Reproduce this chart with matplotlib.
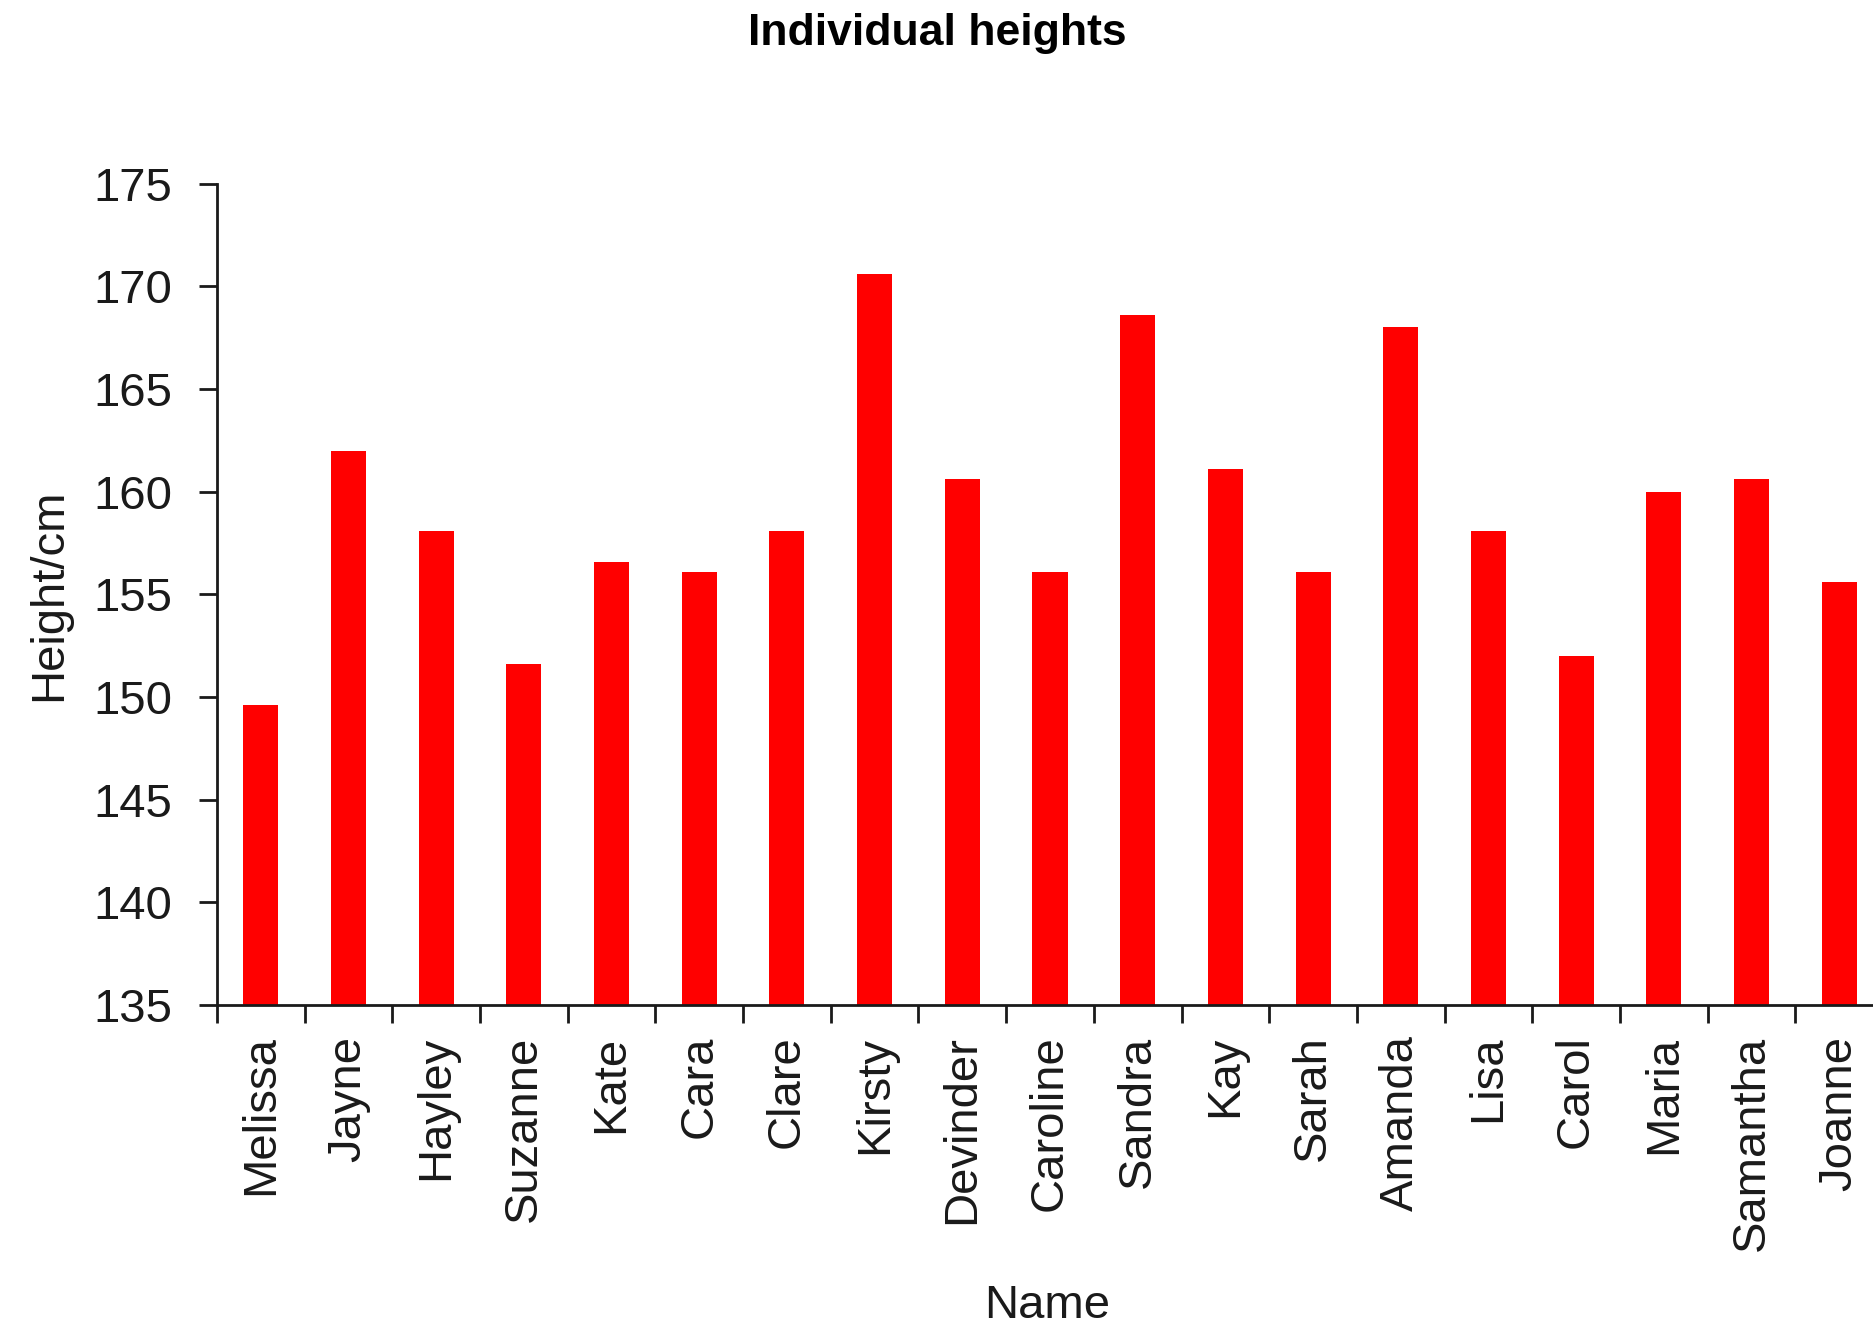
import matplotlib
matplotlib.use('Agg')
import matplotlib.pyplot as plt
import numpy as np

names = ['Melissa', 'Jayne', 'Hayley', 'Suzanne', 'Kate', 'Cara', 'Clare', 'Kirsty',
         'Devinder', 'Caroline', 'Sandra', 'Kay', 'Sarah', 'Amanda', 'Lisa', 'Carol',
         'Maria', 'Samantha', 'Joanne']
heights = [149.6, 162.0, 158.1, 151.6, 156.6, 156.1, 158.1, 170.6,
           160.6, 156.1, 168.6, 161.1, 156.1, 168.0, 158.1, 152.0,
           160.0, 160.6, 155.6]
y_ticks = [135, 140, 145, 150, 155, 160, 165, 170, 175]

plt.rcParams['font.family'] = ['Liberation Sans', 'DejaVu Sans']
ink = '#1a1a1a'

fig = plt.figure(figsize=(18.74, 13.34), dpi=100)
ax = fig.add_axes([0.1158, 0.2466, 0.889, 0.6157])

x = np.arange(len(names))
ax.bar(x, heights, width=0.4, color='#ff0000', bottom=0)
ax.set_xlim(-0.5, len(names) - 0.5)
ax.set_ylim(135, 175)
ax.set_yticks(y_ticks)
ax.set_yticklabels([str(t) for t in y_ticks], fontsize=34, color=ink)

# ticks between categories, labels at the centres
ax.set_xticks(np.arange(len(names) + 1) - 0.5)
ax.set_xticklabels([])
ax.set_xticks(x, minor=True)
ax.set_xticklabels(names, minor=True, rotation=90, fontsize=34, color=ink)
ax.tick_params(axis='x', which='minor', length=0, pad=22)
ax.tick_params(axis='x', which='major', direction='out', length=13, width=2, color=ink)
ax.tick_params(axis='y', direction='out', length=13, width=2, color=ink, pad=19)

for side in ['top', 'right']:
    ax.spines[side].set_visible(False)
for side in ['left', 'bottom']:
    ax.spines[side].set_linewidth(2)
    ax.spines[side].set_color(ink)

ax.set_ylabel('Height/cm', fontsize=34, color=ink)
ax.yaxis.label.set_va('center')
ax.yaxis.set_label_coords(-0.101, 0.5)
ax.set_xlabel('Name', fontsize=34, color=ink)
ax.xaxis.label.set_va('center')
ax.xaxis.set_label_coords(0.498, -0.367)

fig.text(0.5, 0.975, 'Individual heights', ha='center', va='center', fontsize=32,
         weight='bold', family=['Liberation Sans Narrow', 'Liberation Sans'], color='black')

fig.savefig('out.png', dpi=100, facecolor='white')
